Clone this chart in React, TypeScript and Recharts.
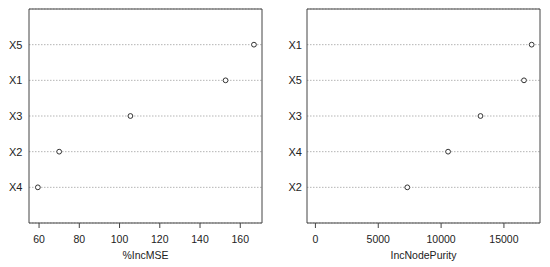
import React from 'react';
import { ScatterChart, Scatter, XAxis, YAxis, CartesianGrid, ReferenceArea } from 'recharts';

// rows listed bottom to top, like R's dotchart
const mseLabels = ['X4', 'X2', 'X3', 'X1', 'X5'];
const mseValues = [59.4, 70, 105.4, 152.7, 166.8];
const mseTicks = [60, 80, 100, 120, 140, 160];

const purityLabels = ['X2', 'X4', 'X3', 'X5', 'X1'];
const purityValues = [7310, 10556, 13135, 16596, 17207];
const purityTicks = [0, 5000, 10000, 15000];

const font = { fontFamily: 'Liberation Sans, Arial, sans-serif', fontSize: 10.5, fill: '#222' };

const Dot = (p: any) => (
  <circle cx={p.cx} cy={p.cy} r={2.4} fill="#fff" stroke="#333" strokeWidth={1} />
);

const DotPanel = ({ labels, values, ticks, domain, title, left, right, yTickSize }: any) => {
  const data = values.map((v: number, i: number) => ({ x: v, y: i + 1 }));
  return (
    <ScatterChart width={275} height={267} margin={{ top: 9, right: right, bottom: 0, left: 0 }}>
      <CartesianGrid vertical={false} stroke="#b5b5b5" strokeDasharray="1.5 1.5" />
      <ReferenceArea x1={domain[0]} x2={domain[1]} y1={0} y2={6} fill="none" stroke="#444" strokeWidth={1} />
      <XAxis
        type="number"
        dataKey="x"
        domain={domain}
        ticks={ticks}
        allowDataOverflow
        height={44}
        axisLine={false}
        tickSize={5}
        tickMargin={7.5}
        tickLine={{ stroke: '#444' }}
        tick={font}
        interval={0}
        label={{ value: title, position: 'insideBottom', offset: 8, style: font }}
      />
      <YAxis
        type="number"
        dataKey="y"
        domain={[0, 6]}
        ticks={[1, 2, 3, 4, 5]}
        width={left}
        axisLine={false}
        tickLine={false}
        tickSize={yTickSize}
        tickMargin={2}
        tick={{ ...font, fontSize: 11 }}
        interval={0}
        tickFormatter={(v: number) => labels[v - 1]}
      />
      <Scatter data={data} shape={Dot} isAnimationActive={false} />
    </ScatterChart>
  );
};

export default function App() {
  return (
    <div style={{ position: 'absolute', left: 0, top: 0, width: 550, height: 267, background: '#fff', display: 'flex' }}>
      <DotPanel
        labels={mseLabels}
        values={mseValues}
        ticks={mseTicks}
        domain={[55.0, 170.8]}
        title="%IncMSE"
        left={29}
        right={13}
        yTickSize={4.5}
      />
      <DotPanel
        labels={purityLabels}
        values={purityValues}
        ticks={purityTicks}
        domain={[-670, 17870]}
        title="IncNodePurity"
        left={32}
        right={10}
        yTickSize={3}
      />
    </div>
  );
}
